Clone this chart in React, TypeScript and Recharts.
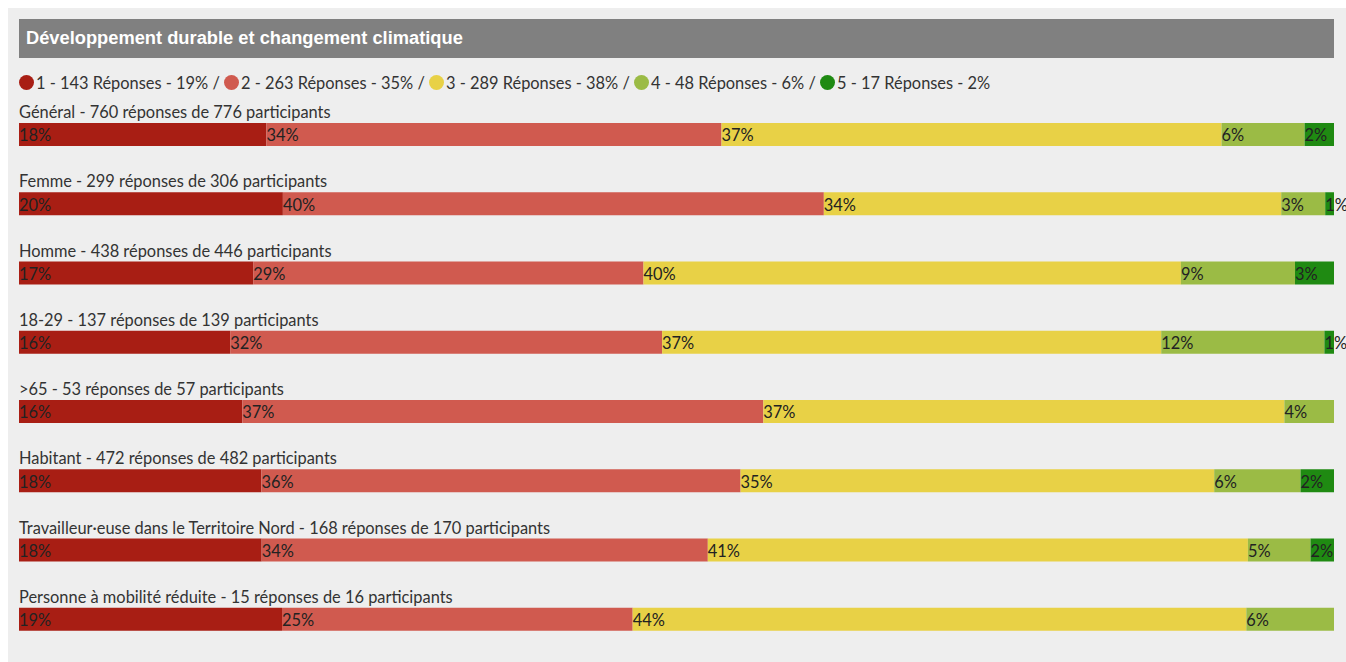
import React from 'react';
import { BarChart, Bar, XAxis, YAxis, LabelList } from 'recharts';

const title = 'Développement durable et changement climatique';
const levels = ['1', '2', '3', '4', '5'];
const colors = ['#a81e14', '#d05a4f', '#e8d146', '#9bbb45', '#1f8a12'];
const groups = [
  'Général',
  'Femme',
  'Homme',
  '18-29',
  '>65',
  'Habitant',
  'Travailleur·euse dans le Territoire Nord',
  'Personne à mobilité réduite',
];
const responses = [760, 299, 438, 137, 53, 472, 168, 15];
const participants = [776, 306, 446, 139, 57, 482, 170, 16];
const level1 = [143, 60, 78, 22, 9, 87, 31, 3];
const level2 = [263, 123, 130, 45, 21, 172, 57, 4];
const level3 = [289, 104, 179, 52, 21, 170, 69, 7];
const level4 = [48, 10, 38, 17, 2, 31, 8, 1];
const level5 = [17, 2, 13, 1, 0, 12, 3, 0];

const series = [level1, level2, level3, level4, level5];
const keys = ['l1', 'l2', 'l3', 'l4', 'l5'];

const pct = (v: number, total: number) => Math.round((v / total) * 100);

const data = groups.map((g, i) => {
  const row: any = {
    name: g,
    title: `${g} - ${responses[i]} réponses de ${participants[i]} participants`,
  };
  series.forEach((s, k) => {
    row[keys[k]] = s[i];
    row['p' + (k + 1)] = s[i] > 0 ? `${pct(s[i], participants[i])}%` : '';
  });
  return row;
});

const FONT = 'Lato, "Open Sans", sans-serif';
const FS = 16.4;

const getBox = (props: any) => {
  const vb = props.viewBox || {};
  return {
    x: props.x ?? vb.x,
    y: props.y ?? vb.y,
    width: props.width ?? vb.width,
    height: props.height ?? vb.height,
  };
};

const PctLabel = (props: any) => {
  const { x, y } = getBox(props);
  if (!props.value) return null;
  return (
    <text x={x} y={y + 18.3} fill="#222" fontSize={FS} fontFamily={FONT}>
      {props.value}
    </text>
  );
};

const RowTitle = (props: any) => {
  const { x, y } = getBox(props);
  return (
    <text x={x} y={y - 5} fill="#333" fontSize={FS} fontFamily={FONT}>
      {props.value}
    </text>
  );
};

export default function App() {
  const gen = series.map((s) => s[0]);
  return (
    <div
      style={{
        position: 'absolute',
        left: 8,
        top: 8,
        width: 1338,
        height: 654,
        background: '#eeeeee',
        overflow: 'hidden',
      }}
    >
      <div
        style={{
          position: 'absolute',
          left: 11,
          top: 11,
          width: 1315,
          height: 39,
          background: '#808080',
          color: '#fff',
          fontFamily: '"Liberation Sans", Arial, sans-serif',
          fontWeight: 'bold',
          fontSize: 18.3,
          lineHeight: '38px',
          paddingLeft: 7,
          boxSizing: 'border-box',
        }}
      >
        {title}
      </div>
      <div
        style={{
          position: 'absolute',
          left: 11,
          top: 64,
          height: 20,
          display: 'flex',
          alignItems: 'center',
          fontFamily: FONT,
          fontSize: FS,
          color: '#333',
          whiteSpace: 'pre',
        }}
      >
        {levels.map((lv, k) => (
          <React.Fragment key={lv}>
            <span
              style={{
                display: 'inline-block',
                width: 15,
                height: 15,
                borderRadius: '50%',
                background: colors[k],
                marginRight: 2,
              }}
            />
            <span>
              {`${lv} - ${gen[k]} Réponses - ${pct(gen[k], responses[0])}%`}
              {k < levels.length - 1 ? ' / ' : ''}
            </span>
          </React.Fragment>
        ))}
      </div>
      <div style={{ position: 'absolute', left: 0, top: 0 }}>
        <BarChart
          width={1338}
          height={654}
          data={data}
          layout="vertical"
          stackOffset="expand"
          margin={{ top: 92, right: 12, bottom: 8, left: 11 }}
        >
          <XAxis type="number" domain={[0, 1]} hide />
          <YAxis type="category" dataKey="name" hide width={0} />
          {keys.map((k, i) => (
            <Bar
              key={k}
              dataKey={k}
              stackId="a"
              fill={colors[i]}
              barSize={23}
              isAnimationActive={false}
            >
              {i === 0 && <LabelList dataKey="title" content={RowTitle} />}
              <LabelList dataKey={'p' + (i + 1)} content={PctLabel} />
            </Bar>
          ))}
        </BarChart>
      </div>
    </div>
  );
}
